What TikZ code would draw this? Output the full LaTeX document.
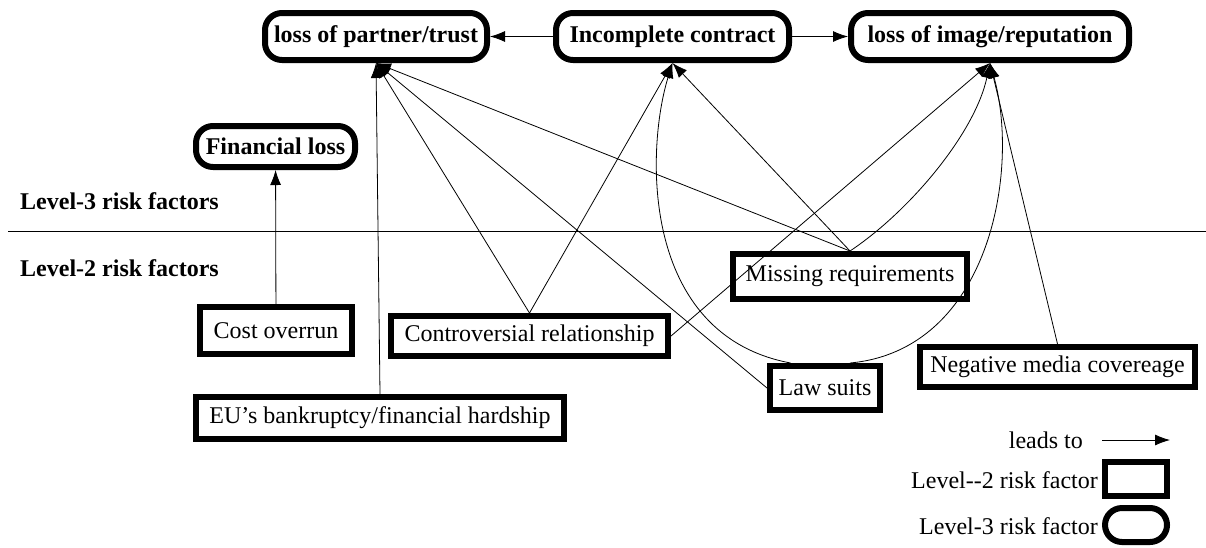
\documentclass[tikz,border=0pt]{standalone}
\usepackage{fontspec}
\setmainfont{Liberation Serif}
\usetikzlibrary{arrows.meta}

\begin{document}
\begin{tikzpicture}[x=1pt, y=-1pt,
        every node/.append style={font=\fontsize{24}{28}\selectfont, inner sep=0pt},
        lvtwo/.style={draw, line width=6pt},
        lvthree/.style={draw, line width=6pt, rounded corners=17pt, font=\fontsize{24}{28}\selectfont\bfseries},
        leads/.style={-{Latex[length=15pt, width=11pt]}, line width=0.8pt}]
        \useasboundingbox (0,0) rectangle (1206,547);

        \node [lvthree, minimum width=222pt, minimum height=47pt] (PT) at (376,36.5) {loss of partner/trust};
        \node [lvthree, minimum width=233pt, minimum height=47pt] (IC) at (672.5,36.5) {Incomplete contract};
        \node [lvthree, minimum width=278pt, minimum height=47pt] (IR) at (990,36.5) {loss of image/reputation};
        \node [lvthree, minimum width=159pt, minimum height=41pt] (FL) at (275.5,146.5) {Financial loss};

        \node [anchor=west, font=\fontsize{24}{28}\selectfont\bfseries] (L3) at (20,201) {Level-3 risk factors};
        \node [anchor=west, font=\fontsize{24}{28}\selectfont\bfseries] (L2) at (20,268) {Level-2 risk factors};
        \draw [line width=0.8pt] (8,231) -- (1206,231);

        \node [lvtwo, minimum width=152pt, minimum height=47pt] (CO) at (276,330.5) {Cost overrun};
        \node [lvtwo, minimum width=277pt, minimum height=40pt] (CR) at (529.5,336) {Controversial relationship};
        \node [lvtwo, minimum width=368pt, minimum height=42pt] (EU) at (380,418) {EU’s bankruptcy/financial hardship};
        \node [lvtwo, minimum width=234pt, minimum height=45pt] (MR) at (850,276.5) {Missing requirements};
        \node [lvtwo, minimum width=110pt, minimum height=44pt] (LS) at (825,388) {Law suits};
        \node [lvtwo, minimum width=275pt, minimum height=40pt] (NM) at (1057.5,367) {Negative media covereage};

        \draw [leads] (IC) -- (PT);
        \draw [leads] (IC) -- (IR);
        \draw [leads] (CO) -- (FL);
        \draw [leads] (EU.north) -- (PT.south);
        \draw [leads] (CR.north) -- (PT.south);
        \draw [leads] (CR.north) -- (IC.south);
        \draw [leads] (CR.east) -- (IR.south);
        \draw [leads] (LS.west) -- (PT.south);
        \draw [leads] (MR.north) -- (PT.south);
        \draw [leads] (MR.north) -- (IC.south);
        \draw [leads] (MR.north) .. controls +(60,-40) and +(-15,70) .. (IR.south);
        \draw [leads] (NM.north) -- (IR.south);
        \draw [leads] (LS.144) .. controls +(-150,-28) and +(-27,87) .. (IC.south);
        \draw [leads] (LS.45) .. controls +(140,-13) and +(30,107) .. (IR.south);

        % legend
        \node [anchor=east] (legtxt) at (1083,440) {leads to};
        \coordinate (legA) at (1102,440);
        \coordinate (legB) at (1170,440);
        \draw [leads] (legA) -- (legB);
        \node [lvtwo, minimum width=62pt, minimum height=34pt] (legtwo) at (1136,479) {};
        \node [lvthree, minimum width=62pt, minimum height=34pt] (legthree) at (1136,525) {};
        \node [anchor=east] (legtwotxt) at (1098,480) {Level-{}-2 risk factor};
        \node [anchor=east] (legthreetxt) at (1098,526) {Level-3 risk factor};
    \end{tikzpicture}
\end{document}
